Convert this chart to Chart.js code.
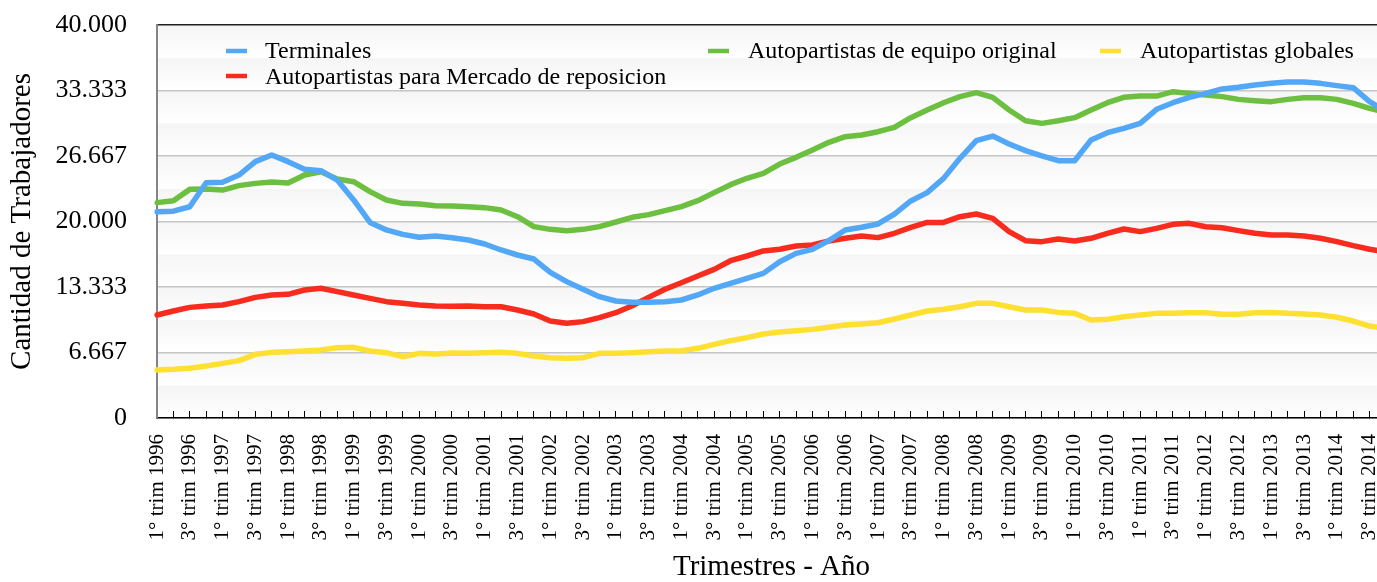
<!DOCTYPE html>
<html>
<head>
<meta charset="utf-8">
<script src="https://cdn.jsdelivr.net/npm/chart.js@4.4.1/dist/chart.umd.min.js"></script>
<style>
    html, body { margin: 0; padding: 0; overflow: hidden; background: #fff; }
    #wrap { width: 1390px; height: 582px; }
</style>
</head>
<body>
<div id="wrap"><canvas id="empleoChart" width="1390" height="582"></canvas></div>
<script>
// Trimestres 1996 - 2014
const years = [1996, 1997, 1998, 1999, 2000, 2001, 2002, 2003, 2004, 2005,
               2006, 2007, 2008, 2009, 2010, 2011, 2012, 2013, 2014];
const quarters = ['1°', '2°', '3°', '4°'];
const labels = [];
years.forEach(y => quarters.forEach(q => labels.push(q + ' trim ' + y)));

const terminales = [
    21000, 21050, 21500, 23950, 24000, 24730, 26090, 26770, 26090, 25310,
    25170, 24220, 22190, 19910, 19140, 18690, 18390, 18520, 18350, 18120,
    17710, 17100, 16590, 16180, 14830, 13880, 13100, 12350, 11910, 11770,
    11770, 11840, 12010, 12520, 13200, 13710, 14220, 14720, 15910, 16760,
    17170, 18050, 19140, 19410, 19750, 20760, 22090, 22940, 24390, 26430,
    28230, 28700, 27890, 27210, 26670, 26190, 26190, 28300, 29040, 29480,
    29990, 31420, 32090, 32640, 33040, 33490, 33660, 33890, 34060, 34200,
    34200, 34060, 33830, 33620, 32200, 31200
];
const reposicion = [
    10480, 10890, 11260, 11400, 11500, 11840, 12280, 12520, 12590, 13030,
    13200, 12860, 12520, 12180, 11840, 11670, 11500, 11400, 11380, 11400,
    11330, 11330, 10990, 10590, 9870, 9640, 9810, 10210, 10720, 11430,
    12280, 13100, 13770, 14450, 15130, 16010, 16490, 17000, 17170, 17510,
    17610, 18020, 18290, 18520, 18360, 18800, 19410, 19910, 19910, 20490,
    20760, 20320, 18970, 18050, 17950, 18220, 18020, 18290, 18800, 19240,
    18970, 19300, 19710, 19810, 19470, 19370, 19070, 18800, 18630, 18630,
    18520, 18290, 17950, 17540, 17170, 16900
];
const equipoOriginal = [
    21920, 22120, 23270, 23310, 23200, 23650, 23880, 24020, 23920, 24730,
    25070, 24330, 24050, 23040, 22190, 21850, 21780, 21610, 21580, 21510,
    21410, 21170, 20490, 19480, 19200, 19070, 19200, 19480, 19950, 20430,
    20700, 21100, 21510, 22120, 22940, 23750, 24400, 24900, 25850, 26530,
    27280, 28060, 28630, 28800, 29140, 29580, 30570, 31350, 32090, 32710,
    33110, 32640, 31350, 30260, 29990, 30260, 30570, 31350, 32090, 32640,
    32770, 32770, 33210, 33040, 32870, 32710, 32430, 32300, 32200, 32430,
    32600, 32600, 32430, 32030, 31520, 31100
];
const globales = [
    4890, 4950, 5060, 5290, 5560, 5840, 6480, 6680, 6750, 6820,
    6920, 7160, 7190, 6820, 6650, 6240, 6580, 6510, 6620, 6580,
    6650, 6680, 6580, 6310, 6140, 6070, 6140, 6580, 6580, 6650,
    6750, 6820, 6850, 7090, 7500, 7870, 8180, 8550, 8750, 8890,
    9020, 9230, 9470, 9570, 9700, 10080, 10480, 10890, 11060, 11330,
    11670, 11670, 11330, 10990, 10990, 10750, 10650, 9970, 10040, 10310,
    10480, 10650, 10650, 10720, 10720, 10550, 10550, 10720, 10750, 10650,
    10590, 10480, 10250, 9870, 9360, 9100
];

const yMax = 40000;
const yStep = yMax / 12;

const SERIF = '"Liberation Serif", "DejaVu Serif", serif';
Chart.defaults.font.family = SERIF;
Chart.defaults.color = '#000';

function formatMiles(v) {
    return Math.round(v).toString().replace(/\B(?=(\d{3})+(?!\d))/g, '.');
}

// bandas grises suaves detras de la grilla
const bandsPlugin = {
    id: 'bands',
    beforeDraw(chart) {
        const {ctx, chartArea, scales: {y}} = chart;
        ctx.save();
        for (let k = 0; k < 12; k++) {
            const top = y.getPixelForValue((k + 1) * yStep);
            const bot = y.getPixelForValue(k * yStep);
            const g = ctx.createLinearGradient(0, top, 0, bot);
            g.addColorStop(0, '#f5f5f5');
            g.addColorStop(1, '#ffffff');
            ctx.fillStyle = g;
            ctx.fillRect(chartArea.left, top, chartArea.right - chartArea.left, bot - top);
        }
        ctx.restore();
    }
};

// leyenda en tres columnas como el original
const legendSlots = [
    {x: 226, y: 51, tx: 265, ty: 58},
    {x: 226, y: 76, tx: 265, ty: 84},
    {x: 708, y: 51, tx: 748, ty: 58},
    {x: 1100, y: 51, tx: 1140, ty: 58}
];
const legendPlugin = {
    id: 'customLegend',
    afterDraw(chart) {
        const ctx = chart.ctx;
        ctx.save();
        ctx.font = '24px ' + SERIF;
        ctx.textBaseline = 'alphabetic';
        ctx.textAlign = 'left';
        chart.data.datasets.forEach((ds, i) => {
            const s = legendSlots[i];
            ctx.strokeStyle = ds.borderColor;
            ctx.lineWidth = 4.5;
            ctx.beginPath();
            ctx.moveTo(s.x, s.y);
            ctx.lineTo(s.x + 21, s.y);
            ctx.stroke();
            ctx.fillStyle = '#000';
            ctx.fillText(ds.label, s.tx, s.ty);
        });
        ctx.restore();
    }
};

function line(label, data, color) {
    return {
        label: label,
        data: data,
        borderColor: color,
        backgroundColor: color,
        borderWidth: 5.5,
        pointRadius: 0,
        tension: 0,
        borderJoinStyle: 'round',
        borderCapStyle: 'round',
        fill: false
    };
}

const ctx = document.getElementById('empleoChart').getContext('2d');
const empleoChart = new Chart(ctx, {
    type: 'line',
    data: {
        labels: labels,
        datasets: [
            line('Terminales', terminales, '#52a8f6'),
            line('Autopartistas para Mercado de reposicion', reposicion, '#f82b1f'),
            line('Autopartistas de equipo original', equipoOriginal, '#6cbf3f'),
            line('Autopartistas globales', globales, '#fde032')
        ]
    },
    options: {
        responsive: false,
        animation: false,
        layout: { padding: { top: 25, right: 4, left: 0, bottom: 0 } },
        plugins: {
            legend: { display: false },
            tooltip: { enabled: false }
        },
        scales: {
            x: {
                offset: false,
                grid: {
                    display: true,
                    drawOnChartArea: false,
                    drawTicks: true,
                    tickLength: -7,
                    color: '#000',
                    lineWidth: 1
                },
                border: { display: true, color: '#000', width: 1.5 },
                ticks: {
                    autoSkip: false,
                    maxRotation: 90,
                    minRotation: 90,
                    padding: 23,
                    font: { size: 21 },
                    callback: function(val, i) {
                        return i % 2 === 0 ? labels[i] : '';
                    }
                },
                title: {
                    display: true,
                    text: 'Trimestres - Año',
                    font: { size: 29, lineHeight: 1 },
                    padding: { top: 0, bottom: 0 }
                },
                afterFit: function(s) {
                    s.height = 164;
                    s.paddingLeft = 0;
                    s.paddingRight = 0;
                }
            },
            y: {
                min: 0,
                max: yMax,
                grid: {
                    drawTicks: false,
                    lineWidth: 1.5,
                    color: c => (c.tick && c.tick.value >= yMax - 1) ? '#222' : '#c6c6c6'
                },
                border: { display: true, color: '#858585', width: 2 },
                ticks: {
                    stepSize: yStep,
                    padding: 30,
                    font: { size: 26 },
                    callback: function(val, i) {
                        return i % 2 === 0 ? formatMiles(val) : '';
                    }
                },
                title: {
                    display: true,
                    text: 'Cantidad de Trabajadores',
                    font: { size: 29, lineHeight: 1 },
                    padding: { top: 8, bottom: 0 }
                },
                afterFit: function(s) {
                    s.width = 157;
                    s.paddingTop = 0;
                    s.paddingBottom = 0;
                }
            }
        }
    },
    plugins: [bandsPlugin, legendPlugin]
});
</script>
</body>
</html>
